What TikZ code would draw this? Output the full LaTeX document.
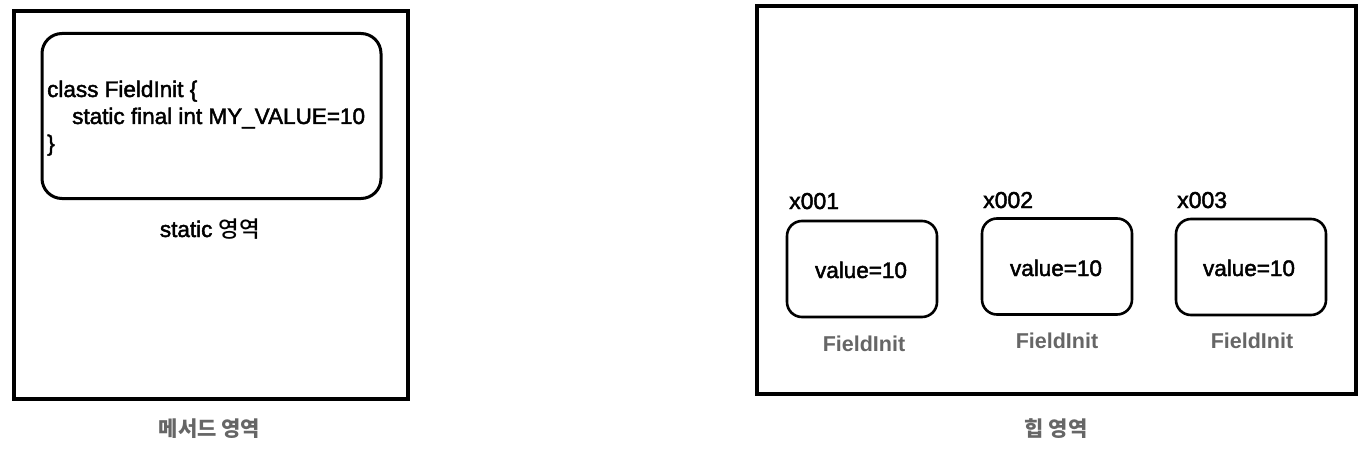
\documentclass[tikz,border=0pt]{standalone}
\usepackage{fontspec}
\setmainfont{Liberation Sans}
\newfontfamily\heavy{Liberation Sans}[FakeBold=2]
\newfontfamily\kr{Noto Sans CJK KR}
\newfontfamily\krmed{Noto Sans CJK KR Medium}
\definecolor{labelgray}{RGB}{102,102,102}
\begin{document}
\begin{tikzpicture}[x=1pt,y=-1pt,
  area/.style={draw=black,line width=4pt,minimum width=#1,inner sep=0pt},
  objbox/.style={draw=black,line width=2.6pt,rounded corners=15pt,minimum width=150pt,minimum height=96pt,inner sep=0pt},
  codetxt/.style={font=\fontsize{22.5}{27}\selectfont\heavy,inner sep=0pt,anchor=base west},
  valtxt/.style={font=\fontsize{22.5}{27}\selectfont\heavy,inner sep=0pt,anchor=base},
  addr/.style={font=\fontsize{23}{27}\selectfont\heavy,inner sep=0pt,anchor=base west},
  clsname/.style={font=\fontsize{21.5}{26}\selectfont\bfseries,text=labelgray,inner sep=0pt,anchor=base},
  areaname/.style={font=\fontsize{21}{26}\selectfont\kr\bfseries,text=labelgray,inner sep=0pt,anchor=base}]
\path[use as bounding box] (0,0) rectangle (1366,452);
% method area
\node[area=394pt,minimum height=388pt] (method) at (211,205) {};
\node[draw=black,line width=3pt,rounded corners=20pt,minimum width=339pt,minimum height=165pt,inner sep=0pt] (classbox) at (211.5,116) {};
\node[codetxt] (l1) at (47,97) {class FieldInit \{};
\node[codetxt] (l2) at (72,124) {static final int MY\_VALUE=10};
\node[codetxt] (l3) at (47,151) {\}};
\node[valtxt] (staticlbl) at (210,237) {static {\krmed 영역}};
\node[areaname] (methodlbl) at (209.5,436) {메서드 영역};
% heap area
\node[area=599pt,minimum height=388pt] (heap) at (1056.5,200) {};
\node[objbox] (o1) at (862,269) {};
\node[objbox] (o2) at (1057,266.5) {};
\node[objbox] (o3) at (1251,267) {};
\node[addr] (a1) at (789,209) {x001};
\node[addr] (a2) at (983,208) {x002};
\node[addr] (a3) at (1177,208) {x003};
\node[valtxt] (v1) at (861,278) {value=10};
\node[valtxt] (v2) at (1056,276) {value=10};
\node[valtxt] (v3) at (1249,276) {value=10};
\node[clsname] (c1) at (864,351) {FieldInit};
\node[clsname] (c2) at (1057,348) {FieldInit};
\node[clsname] (c3) at (1252,348) {FieldInit};
\node[areaname] (heaplbl) at (1056,436) {힙 영역};
\end{tikzpicture}
\end{document}
